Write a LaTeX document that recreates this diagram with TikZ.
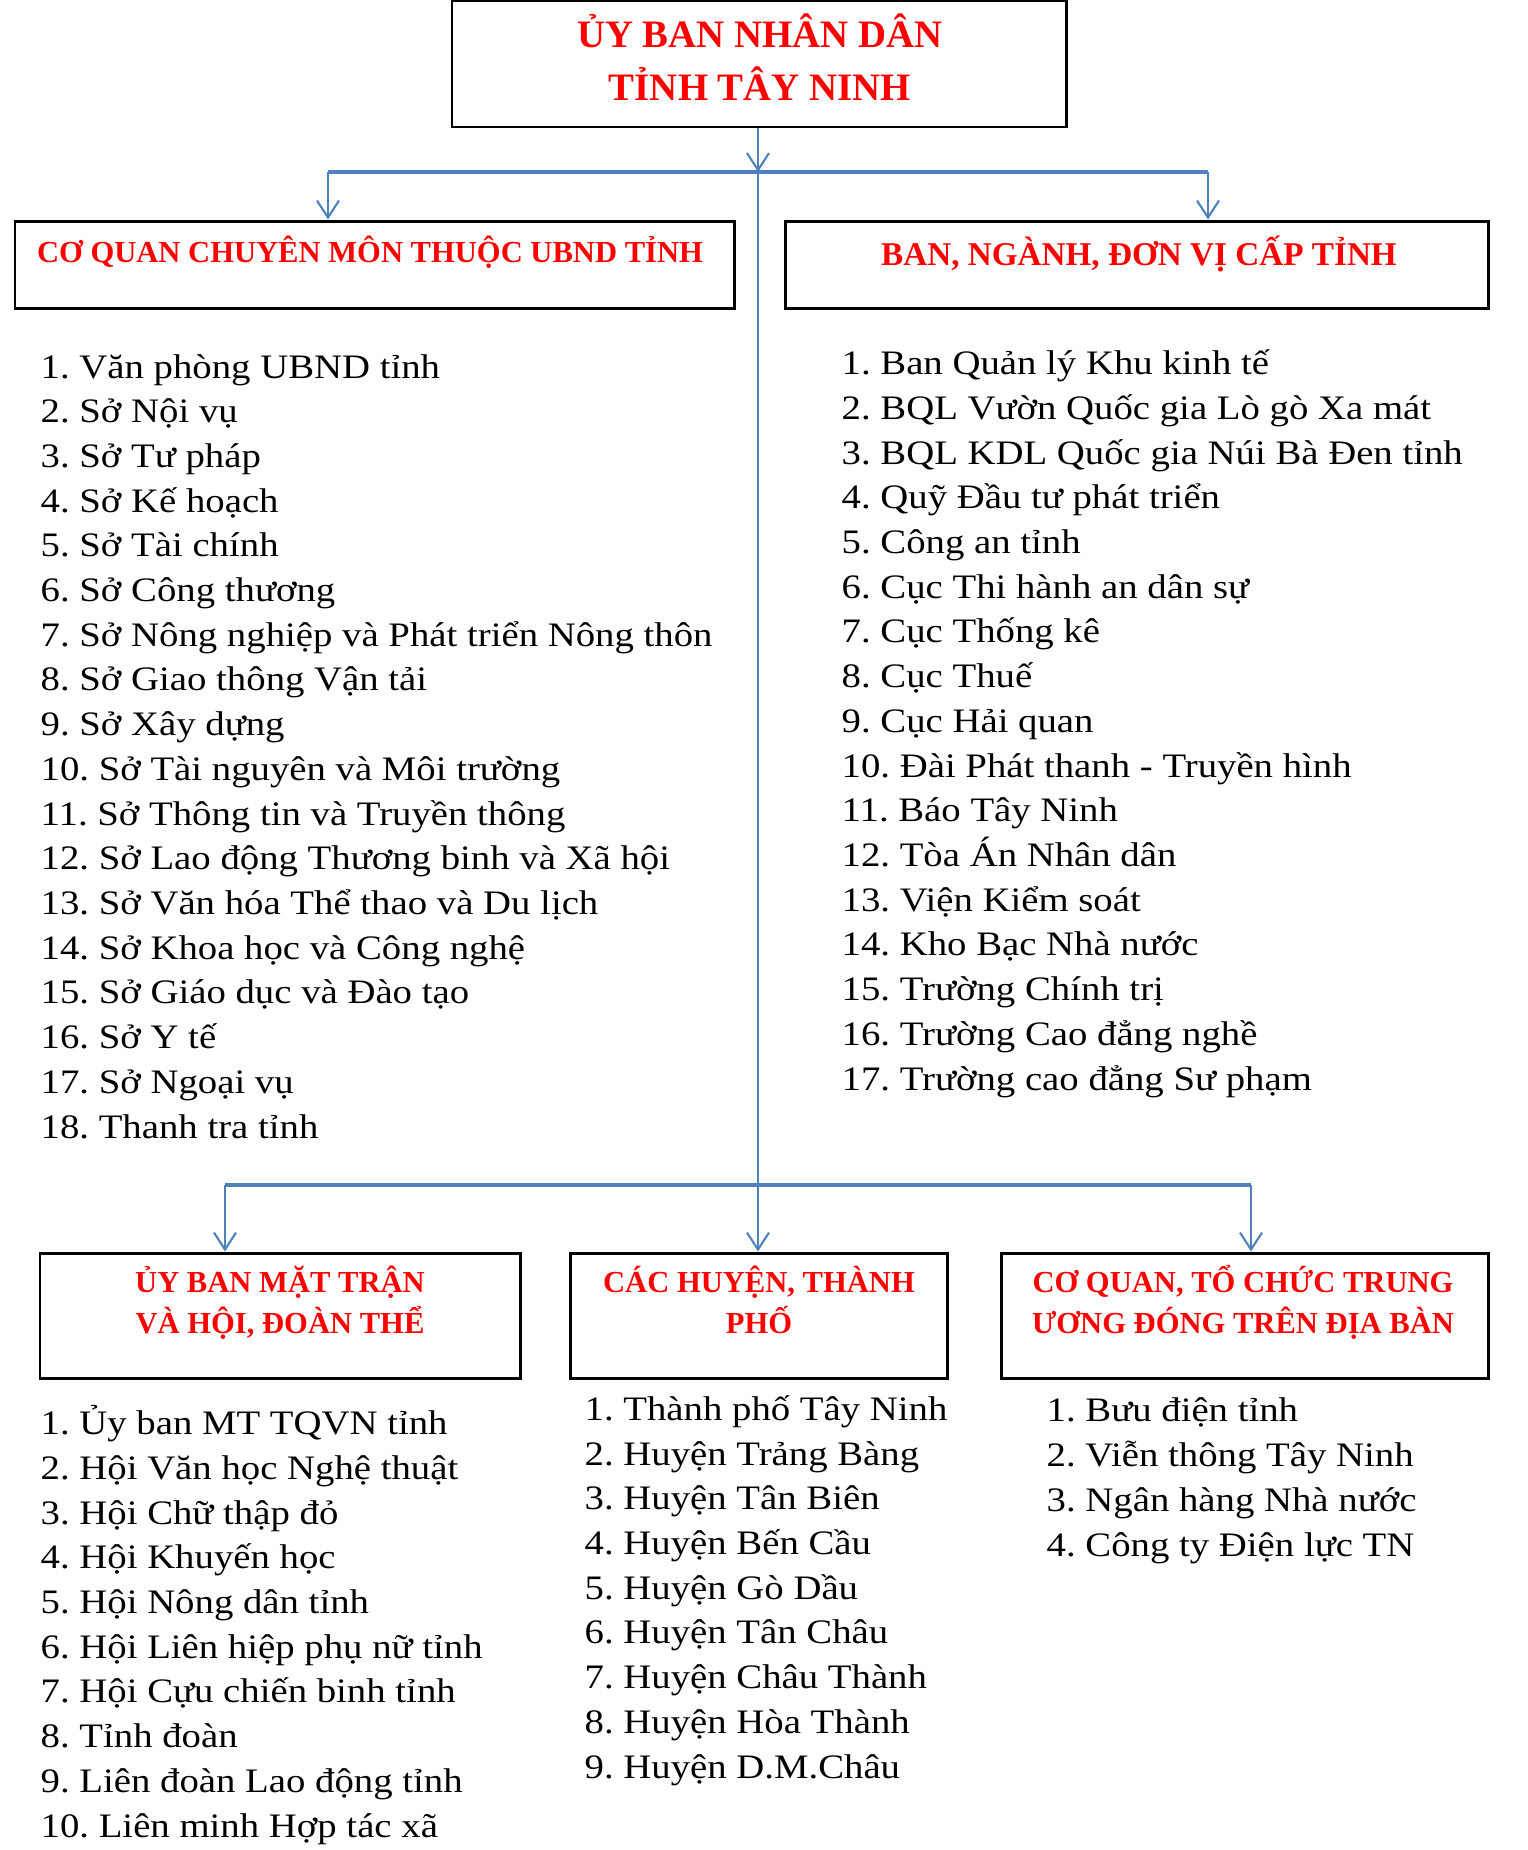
\documentclass[tikz,border=0pt]{standalone}
\usepackage{fontspec}
\usepackage{tikz}
\usetikzlibrary{arrows.meta}
\newfontfamily\listfont{Liberation Serif}[FakeStretch=1.13]
\newfontfamily\headfont{Liberation Serif}
\definecolor{headred}{RGB}{255,0,0}
\definecolor{linkblue}{RGB}{79,129,189}
\frenchspacing

\begin{document}
\begin{tikzpicture}
[
  box/.style={draw=black,line width=0.85pt,minimum height=1.25cm,inner sep=0pt},
  title/.style={align=center,text=headred,inner sep=0pt,anchor=base,font=\headfont\bfseries\fontsize{11.05}{14.8}\selectfont},
  head/.style={align=center,text=headred,inner sep=0pt,anchor=base,font=\headfont\bfseries\fontsize{8.7}{11.66}\selectfont},
  items/.style={align=left,inner sep=0pt,anchor=base west,font=\listfont\fontsize{9.76}{12.72}\selectfont},
  link/.style={draw=linkblue,line width=0.6pt},
  bar/.style={draw=linkblue,line width=1pt},
  >={Straight Barb[length=1.7mm,width=2.2mm]}
]
\useasboundingbox (0,0) rectangle (15.28,-18.5);

\node[box,minimum width=6.14cm,minimum height=1.26cm] (ubnd) at (7.59,-0.64) {};
\node[title] (ubndt) at (7.60,-1.00) {ỦY BAN NHÂN DÂN\\TỈNH TÂY NINH};

\node[box,minimum width=7.19cm,minimum height=0.87cm] (cqcm) at (3.745,-2.645) {};
\node[head] (cqcmt) at (3.70,-2.62) {CƠ QUAN CHUYÊN MÔN THUỘC UBND TỈNH};

\node[box,minimum width=7.03cm,minimum height=0.87cm] (bannganh) at (11.365,-2.645) {};
\node[head,font=\headfont\bfseries\fontsize{9.45}{11.66}\selectfont] (bannganht) at (11.39,-2.65) {BAN, NGÀNH, ĐƠN VỊ CẤP TỈNH};

\node[items] (cqcmlist) at (0.40,-11.38) {1. Văn phòng UBND tỉnh\\
2. Sở Nội vụ\\
3. Sở Tư pháp\\
4. Sở Kế hoạch\\
5. Sở Tài chính\\
6. Sở Công thương\\
7. Sở Nông nghiệp và Phát triển Nông thôn\\
8. Sở Giao thông Vận tải\\
9. Sở Xây dựng\\
10. Sở Tài nguyên và  Môi trường\\
11. Sở Thông tin và Truyền thông\\
12. Sở Lao động Thương binh và Xã hội\\
13. Sở Văn hóa Thể thao và Du lịch\\
14. Sở Khoa học và Công nghệ\\
15. Sở Giáo dục và Đào tạo\\
16. Sở Y tế\\
17. Sở Ngoại vụ\\
18. Thanh tra tỉnh};

\node[items] (bannganhlist) at (8.41,-10.90) {1. Ban Quản lý Khu kinh tế\\
2. BQL Vườn Quốc gia Lò gò Xa mát\\
3. BQL KDL Quốc gia Núi Bà Đen tỉnh\\
4. Quỹ Đầu tư phát triển\\
5. Công an tỉnh\\
6. Cục Thi hành an dân sự\\
7. Cục Thống kê\\
8. Cục Thuế\\
9. Cục Hải quan\\
10. Đài Phát thanh - Truyền hình\\
11. Báo Tây Ninh\\
12. Tòa Án Nhân dân\\
13. Viện Kiểm soát\\
14. Kho Bạc Nhà nước\\
15. Trường Chính trị\\
16. Trường Cao đẳng nghề\\
17. Trường cao đẳng Sư phạm};

\node[box,minimum width=4.80cm] (mattran) at (2.80,-13.155) {};
\node[head] (mattrant) at (2.80,-13.33) {ỦY BAN MẶT TRẬN\\VÀ HỘI, ĐOÀN THỂ};

\node[box,minimum width=3.77cm] (huyen) at (7.585,-13.155) {};
\node[head] (huyent) at (7.59,-13.33) {CÁC HUYỆN, THÀNH\\PHỐ};

\node[box,minimum width=4.87cm] (trunguong) at (12.445,-13.155) {};
\node[head] (trunguongt) at (12.43,-13.33) {CƠ QUAN, TỔ CHỨC TRUNG\\ƯƠNG ĐÓNG TRÊN ĐỊA BÀN};

\node[items] (mattranlist) at (0.40,-18.37) {1. Ủy ban MT TQVN tỉnh\\
2. Hội Văn học Nghệ thuật\\
3. Hội Chữ thập đỏ\\
4. Hội Khuyến học\\
5. Hội Nông dân tỉnh\\
6. Hội Liên hiệp phụ nữ tỉnh\\
7. Hội Cựu chiến binh tỉnh\\
8. Tỉnh đoàn\\
9. Liên đoàn Lao động tỉnh\\
10. Liên minh Hợp tác xã};

\node[items] (huyenlist) at (5.84,-17.78) {1. Thành phố Tây Ninh\\
2. Huyện Trảng Bàng\\
3. Huyện Tân Biên\\
4. Huyện Bến Cầu\\
5. Huyện Gò Dầu\\
6. Huyện Tân Châu\\
7. Huyện Châu Thành\\
8. Huyện Hòa Thành\\
9. Huyện D.M.Châu};

\node[items] (trunguonglist) at (10.46,-15.56) {1. Bưu điện tỉnh\\
2. Viễn thông Tây Ninh\\
3. Ngân hàng Nhà nước\\
4. Công ty Điện lực TN};

\coordinate (j1) at (7.58,-1.72);
\coordinate (aL) at (3.28,-1.72);
\coordinate (aR) at (12.08,-1.72);
\coordinate (j2) at (7.58,-11.85);
\coordinate (bL) at (2.25,-11.85);
\coordinate (bR) at (12.51,-11.85);

\draw [link,->] (j1 |- ubnd.south) -- (j1);
\draw [bar] (aL) -- (aR);
\draw [link,->] (aL) -- (aL |- cqcm.north);
\draw [link,->] (aR) -- (aR |- bannganh.north);
\draw [link] (j1) -- (j2);
\draw [bar] (bL) -- (bR);
\draw [link,->] (bL) -- (bL |- mattran.north);
\draw [link,->] (j2) -- (j2 |- huyen.north);
\draw [link,->] (bR) -- (bR |- trunguong.north);

\end{tikzpicture}
\end{document}
